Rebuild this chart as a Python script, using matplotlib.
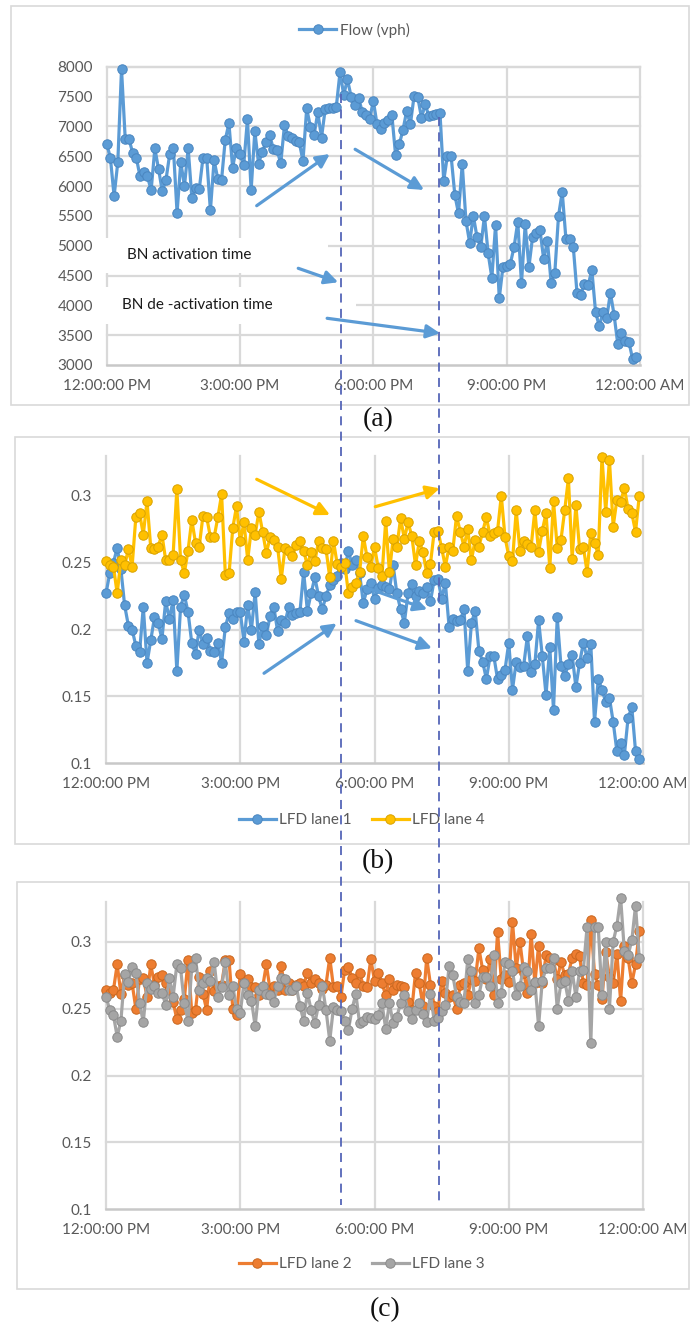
import numpy as np
import matplotlib
matplotlib.use("Agg")
import matplotlib.pyplot as plt
from matplotlib.lines import Line2D
from matplotlib.patches import Rectangle
from matplotlib.transforms import IdentityTransform

# ---------------------------------------------------------------- data
# 5-minute samples from 12:00 PM to 11:55 PM
n_samples = 144
hours = 12 + np.arange(n_samples) * 5 / 60

x_ticks = [12, 15, 18, 21, 24]
x_labels = ["12:00:00 PM", "3:00:00 PM", "6:00:00 PM", "9:00:00 PM", "12:00:00 AM"]

flow_vph = [
    6710, 6470, 5830, 6400, 7960, 6790, 6790, 6560, 6475, 6160, 6230, 6160,
    5930, 6630, 6285, 5916, 6100, 6530, 6640, 5550, 6400, 6000, 6630, 5800,
    5970, 5950, 6475, 6475, 5590, 6435, 6117, 6095, 6770, 7050, 6307, 6640,
    6530, 6350, 7120, 5930, 6920, 6375, 6575, 6730, 6855, 6620, 6600, 6380,
    7020, 6840, 6800, 6755, 6730, 6420, 7300, 6995, 6855, 7235, 6810, 7290,
    7300, 7310, 7330, 7910, 7525, 7790, 7497, 7357, 7480, 7245, 7190, 7123,
    7425, 7033, 6955, 7050, 7105, 7190, 6520, 6700, 6940, 7257, 7033, 7510,
    7485, 7145, 7368, 7173, 7190, 7200, 7218, 6090, 6510, 6500, 5850, 5540,
    6370, 5420, 5050, 5500, 5140, 4970, 5500, 4870, 4460, 5350, 4120, 4650,
    4660, 4700, 4980, 5400, 4370, 5360, 4640, 5150, 5210, 5260, 4770, 5080,
    4380, 4550, 5500, 5900, 5110, 5120, 4970, 4200, 4170, 4360, 4340, 4590,
    3890, 3650, 3880, 3780, 4210, 3840, 3350, 3530, 3410, 3390, 3100, 3130,
]

lfd_lane1 = [
    0.227, 0.242, 0.250, 0.261, 0.245, 0.218, 0.203, 0.200, 0.188, 0.183,
    0.217, 0.175, 0.192, 0.209, 0.205, 0.193, 0.221, 0.208, 0.222, 0.169,
    0.217, 0.226, 0.213, 0.190, 0.182, 0.200, 0.189, 0.194, 0.184, 0.183,
    0.190, 0.175, 0.202, 0.212, 0.208, 0.213, 0.213, 0.191, 0.218, 0.200,
    0.228, 0.189, 0.203, 0.196, 0.210, 0.217, 0.199, 0.207, 0.205, 0.217,
    0.211, 0.212, 0.213, 0.243, 0.214, 0.227, 0.239, 0.225, 0.215, 0.225,
    0.233, 0.237, 0.240, 0.250, 0.245, 0.259, 0.248, 0.252, 0.242, 0.220,
    0.230, 0.235,
    0.223, 0.231, 0.233, 0.232, 0.230, 0.248, 0.227, 0.215, 0.205, 0.227,
    0.234, 0.225, 0.229, 0.227, 0.232, 0.221, 0.237, 0.238, 0.223, 0.235,
    0.202, 0.208, 0.206, 0.207, 0.215, 0.169, 0.205, 0.214, 0.184, 0.176,
    0.163, 0.180, 0.180, 0.163, 0.166, 0.170, 0.190, 0.155, 0.176, 0.172,
    0.173, 0.195, 0.168, 0.174, 0.207, 0.180, 0.151, 0.187, 0.140, 0.209,
    0.173, 0.165, 0.174, 0.181, 0.157, 0.175, 0.190, 0.179, 0.189, 0.131,
    0.163, 0.155, 0.146, 0.149, 0.131, 0.109, 0.115, 0.106, 0.134, 0.142,
    0.109, 0.103,
]

lfd_lane4 = [
    0.251, 0.248, 0.247, 0.227, 0.252, 0.248, 0.260, 0.247, 0.284, 0.287,
    0.271, 0.296, 0.261, 0.260, 0.262, 0.271, 0.252, 0.252, 0.256, 0.305,
    0.252, 0.242, 0.259, 0.282, 0.265, 0.262, 0.285, 0.284, 0.269, 0.269,
    0.284, 0.301, 0.241, 0.242, 0.276, 0.292, 0.266, 0.280, 0.252, 0.276,
    0.271, 0.288, 0.273, 0.257, 0.269, 0.267, 0.262, 0.238, 0.261, 0.259,
    0.255, 0.263, 0.266, 0.259, 0.248, 0.258, 0.251, 0.266, 0.261, 0.260,
    0.239, 0.266, 0.249, 0.247, 0.250, 0.227, 0.232, 0.235, 0.243, 0.270,
    0.254, 0.247,
    0.262, 0.246, 0.240, 0.281, 0.243, 0.268, 0.262, 0.283, 0.268, 0.280,
    0.270, 0.248, 0.266, 0.258, 0.242, 0.249, 0.273, 0.274, 0.261, 0.247,
    0.262, 0.259, 0.285, 0.273, 0.262, 0.275, 0.252, 0.267, 0.262, 0.273,
    0.284, 0.270, 0.272, 0.274, 0.300, 0.269, 0.255, 0.251, 0.289, 0.259,
    0.266, 0.264, 0.262, 0.289, 0.258, 0.274, 0.287, 0.246, 0.296, 0.261,
    0.267, 0.289, 0.313, 0.253, 0.293, 0.260, 0.262, 0.243, 0.272, 0.265,
    0.256, 0.329, 0.288, 0.327, 0.277, 0.297, 0.295, 0.306, 0.290, 0.287,
    0.273, 0.300,
]

lfd_lane2 = [
    0.264, 0.262, 0.264, 0.283, 0.261, 0.275, 0.268, 0.269, 0.250, 0.272,
    0.273, 0.259, 0.283, 0.268, 0.274, 0.275, 0.269, 0.264, 0.255, 0.242,
    0.249, 0.257, 0.286, 0.247, 0.249, 0.274, 0.261, 0.249, 0.278, 0.263,
    0.267, 0.268, 0.286, 0.286, 0.250, 0.245, 0.276, 0.269, 0.272, 0.266,
    0.266, 0.260, 0.266, 0.283, 0.264, 0.267, 0.264, 0.282, 0.264, 0.269,
    0.264, 0.268, 0.269, 0.267, 0.277, 0.269, 0.272, 0.269, 0.265, 0.268,
    0.288, 0.266, 0.267, 0.259, 0.279, 0.281, 0.273, 0.269, 0.277, 0.267,
    0.266, 0.287,
    0.271, 0.277, 0.269, 0.260, 0.272, 0.264, 0.268, 0.267, 0.266, 0.255,
    0.249, 0.277, 0.269, 0.252, 0.288, 0.268, 0.252, 0.248, 0.271, 0.262,
    0.259, 0.260, 0.250, 0.268, 0.269, 0.260, 0.272, 0.271, 0.295, 0.279,
    0.272, 0.287, 0.260, 0.307, 0.272, 0.275, 0.270, 0.315, 0.280, 0.300,
    0.277, 0.262, 0.306, 0.269, 0.297, 0.269, 0.290, 0.288, 0.286, 0.272,
    0.285, 0.275, 0.276, 0.288, 0.291, 0.289, 0.269, 0.268, 0.316, 0.276,
    0.268, 0.257, 0.292, 0.274, 0.269, 0.291, 0.256, 0.297, 0.288, 0.269,
    0.283, 0.308,
]

lfd_lane3 = [
    0.259, 0.249, 0.245, 0.229, 0.241, 0.276, 0.270, 0.281, 0.277, 0.254,
    0.240, 0.269, 0.265, 0.267, 0.262, 0.262, 0.253, 0.273, 0.259, 0.283,
    0.280, 0.254, 0.241, 0.281, 0.288, 0.264, 0.269, 0.273, 0.271, 0.285,
    0.259, 0.266, 0.285, 0.260, 0.267, 0.250, 0.247, 0.269, 0.260, 0.256,
    0.237, 0.264, 0.267, 0.261, 0.260, 0.255, 0.267, 0.273, 0.272, 0.264,
    0.264, 0.267, 0.252, 0.241, 0.262, 0.249, 0.239, 0.253, 0.267, 0.249,
    0.226, 0.251, 0.249, 0.248, 0.241, 0.234, 0.250, 0.261, 0.239, 0.241,
    0.244, 0.243,
    0.242, 0.245, 0.254, 0.235, 0.254, 0.239, 0.244, 0.254, 0.260, 0.248,
    0.242, 0.249, 0.254, 0.246, 0.240, 0.261, 0.241, 0.243, 0.248, 0.253,
    0.282, 0.275, 0.259, 0.255, 0.254, 0.287, 0.278, 0.254, 0.260, 0.274,
    0.274, 0.267, 0.290, 0.254, 0.262, 0.285, 0.283, 0.278, 0.260, 0.267,
    0.281, 0.278, 0.264, 0.270, 0.237, 0.271, 0.280, 0.280, 0.288, 0.250,
    0.269, 0.271, 0.256, 0.278, 0.259, 0.278, 0.279, 0.311, 0.224, 0.311,
    0.311, 0.260, 0.300, 0.250, 0.300, 0.312, 0.333, 0.293, 0.290, 0.301,
    0.327, 0.288,
]

# bottleneck activation / de-activation times (hours)
bn_on = 17.28
bn_off = 19.48

# ---------------------------------------------------------------- style
FONT = "Lato"
GRID = "#d9d9d9"
TXT = "#595959"
BLUE, BLUE_E = "#5b9bd5", "#4a86c0"
GOLD, GOLD_E = "#ffc000", "#d9a300"
ORNG, ORNG_E = "#ed7d31", "#c9671f"
GRAY, GRAY_E = "#a5a5a5", "#8a8a8a"
DASH = "#5566b8"

W, H = 690, 1339
fig = plt.figure(figsize=(W / 100, H / 100), dpi=100)
fig.patch.set_facecolor("white")


def rect(x0, y_top, x1, y_bot):
    return [x0 / W, 1 - y_bot / H, (x1 - x0) / W, (y_bot - y_top) / H]


# outer frames of the three chart objects
for (x0, y0, x1, y1) in [(11, 6, 689, 405), (15, 437, 689, 844), (17, 882, 689, 1289)]:
    fig.patches.append(Rectangle((x0 / W, 1 - y1 / H), (x1 - x0) / W, (y1 - y0) / H,
                                 transform=fig.transFigure, fill=False,
                                 edgecolor=GRID, lw=1.2))

ax_a = fig.add_axes(rect(106.7, 66.7, 640, 365))
ax_b = fig.add_axes(rect(106, 455.6, 643, 763.3))
ax_c = fig.add_axes(rect(106, 901.6, 643, 1209.3))


def style(ax, yticks, ylabels, ylim):
    ax.set_xlim(12, 24)
    ax.set_ylim(*ylim)
    for s in ax.spines.values():
        s.set_visible(False)
    for y in yticks[1:]:
        ax.axhline(y, color=GRID, lw=1.6, zorder=0.5, clip_on=False)
    for x in x_ticks:
        ax.axvline(x, color=GRID, lw=1.6, zorder=0.5, clip_on=False)
    ax.axhline(ylim[0], color="#c8c8c8", lw=1.8, zorder=0.6, clip_on=False)
    ax.set_xticks(x_ticks)
    ax.set_xticklabels(x_labels)
    ax.set_yticks(yticks)
    ax.set_yticklabels(ylabels)
    ax.tick_params(length=0, labelsize=11, labelcolor=TXT, pad=10)
    for lab in ax.get_xticklabels() + ax.get_yticklabels():
        lab.set_fontfamily(FONT)


def series(ax, y, color, edge, label):
    return ax.plot(hours, y, color=color, lw=2.3, marker="o", ms=6.8,
                   mfc=color, mec=edge, mew=0.7, label=label, zorder=3,
                   clip_on=False)[0]


# ---------------------------------------------------------------- panel (a)
style(ax_a, [3000, 3500, 4000, 4500, 5000, 5500, 6000, 6500, 7000, 7500, 8000],
      ["3000", "3500", "4000", "4500", "5000", "5500", "6000", "6500", "7000",
       "7500", "8000"], (3000, 8000))
ax_a.axhline(8000, color=GRID, lw=1.6, zorder=0.5, clip_on=False)
h_flow = series(ax_a, flow_vph, BLUE, BLUE_E, "Flow (vph)")

# text boxes covering the grid
ax_a.add_patch(Rectangle((-0.013, 0.308), 0.428, 0.118, transform=ax_a.transAxes,
                         facecolor="white", edgecolor="none", zorder=2, clip_on=False))
ax_a.add_patch(Rectangle((-0.013, 0.137), 0.481, 0.125, transform=ax_a.transAxes,
                         facecolor="white", edgecolor="none", zorder=2, clip_on=False))
ax_a.text(0.0375, 0.369, "BN activation time", transform=ax_a.transAxes,
          va="center", ha="left", fontsize=11, family=FONT, color="#1a1a1a", zorder=4)
ax_a.text(0.028, 0.201, "BN de -activation time", transform=ax_a.transAxes,
          va="center", ha="left", fontsize=11, family=FONT, color="#1a1a1a", zorder=4)

arrow_kw = dict(arrowstyle="-|>,head_length=0.8,head_width=0.4", lw=2.3,
                shrinkA=0, shrinkB=0)


def arrow(ax, start, end, color):
    ax.annotate("", xy=end, xytext=start, xycoords="data", textcoords="data",
                arrowprops=dict(color=color, **arrow_kw), annotation_clip=False,
                zorder=5)


arrow(ax_a, (15.375, 5670), (17.02, 6537), BLUE)
arrow(ax_a, (17.59, 6616), (19.14, 5934), BLUE)
arrow(ax_a, (16.31, 4621), (17.21, 4387), BLUE)
arrow(ax_a, (16.96, 3783), (19.50, 3532), BLUE)

ax_a.legend(handles=[h_flow], loc="center", bbox_to_anchor=(354.5 / W, 1 - 30 / H),
            bbox_transform=fig.transFigure, frameon=False, handlelength=2.4,
            handletextpad=0.25, prop=dict(family=FONT, size=11), labelcolor=TXT)

# ---------------------------------------------------------------- panel (b)
lfd_ticks = [0.1, 0.15, 0.2, 0.25, 0.3]
lfd_labels = ["0.1", "0.15", "0.2", "0.25", "0.3"]
style(ax_b, lfd_ticks, lfd_labels, (0.1, 0.33))
h1 = series(ax_b, lfd_lane1, BLUE, BLUE_E, "LFD lane 1")
h4 = series(ax_b, lfd_lane4, GOLD, GOLD_E, "LFD lane 4")

arrow(ax_b, (15.368, 0.3123), (17.006, 0.2856), GOLD)
arrow(ax_b, (18.018, 0.2918), (19.457, 0.3055), GOLD)
arrow(ax_b, (15.531, 0.1673), (17.155, 0.2046), BLUE)
arrow(ax_b, (17.587, 0.2066), (19.285, 0.1860), BLUE)
arrow(ax_b, (17.765, 0.2318), (19.180, 0.2151), BLUE)

ax_b.legend(handles=[h1, h4], loc="center", bbox_to_anchor=(362 / W, 1 - 820 / H),
            bbox_transform=fig.transFigure, frameon=False, ncol=2, handlelength=2.4,
            handletextpad=0.25, columnspacing=1.3,
            prop=dict(family=FONT, size=11), labelcolor=TXT)

# ---------------------------------------------------------------- panel (c)
style(ax_c, lfd_ticks, lfd_labels, (0.1, 0.33))
h2 = series(ax_c, lfd_lane2, ORNG, ORNG_E, "LFD lane 2")
h3 = series(ax_c, lfd_lane3, GRAY, GRAY_E, "LFD lane 3")
ax_c.legend(handles=[h2, h3], loc="center", bbox_to_anchor=(362 / W, 1 - 1264 / H),
            bbox_transform=fig.transFigure, frameon=False, ncol=2, handlelength=2.4,
            handletextpad=0.25, columnspacing=1.3,
            prop=dict(family=FONT, size=11), labelcolor=TXT)

# ---------------------------------------------------------------- panel labels
for label, (px, py) in zip(["(a)", "(b)", "(c)"], [(378, 420), (378, 862), (385, 1310)]):
    fig.text(px / W, 1 - py / H, label, ha="center", va="center",
             family="Liberation Serif", fontsize=20, color="#111111")

# ---------------------------------------------------------------- BN time markers
fig.canvas.draw()
for t, v_top in [(bn_on, 7550), (bn_off, 7150)]:
    x_px, y_top = ax_a.transData.transform((t, v_top))
    _, y_bot = ax_c.transData.transform((t, 0.103))
    fig.lines.append(Line2D([x_px, x_px], [y_top, y_bot], transform=IdentityTransform(),
                            color=DASH, lw=1.3, dashes=(5, 3.5), zorder=10))

fig.savefig("out.png", dpi=100, facecolor="white")
